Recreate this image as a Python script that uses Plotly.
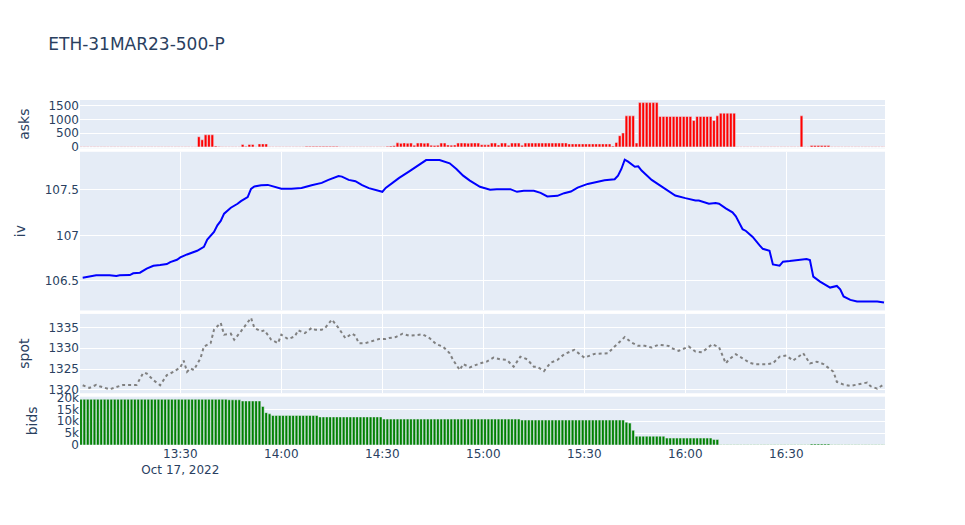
import pandas as pd
import plotly.graph_objects as go
from plotly.subplots import make_subplots

DAY = "2022-10-17 "
TITLE = "ETH-31MAR23-500-P"

# one bar per minute, 13:00 .. 16:59 (bar centred on the half minute)
bar_start = "2022-10-17 13:00:30"
n_bars = 240

asks = [
    10, 10, 10, 10, 10, 10, 10, 10, 10, 10,
    10, 10, 10, 10, 10, 10, 10, 10, 10, 10,
    10, 10, 10, 10, 10, 10, 10, 10, 10, 10,
    10, 10, 10, 10, 10, 370, 260, 440, 440, 440,
    30, 15, 10, 10, 10, 10, 10, 10, 90, 20,
    90, 90, 10, 110, 110, 110, 10, 10, 10, 10,
    10, 10, 10, 10, 10, 10, 10, 20, 20, 20,
    20, 20, 20, 20, 20, 20, 20, 10, 10, 10,
    10, 10, 10, 10, 10, 10, 10, 10, 10, 10,
    10, 20, 30, 40, 150, 130, 145, 135, 140, 60,
    140, 145, 135, 140, 60, 55, 60, 140, 140, 70,
    65, 70, 140, 145, 140, 135, 140, 145, 140, 80,
    75, 80, 140, 140, 70, 140, 140, 60, 140, 140,
    140, 60, 140, 140, 140, 140, 140, 140, 140, 140,
    140, 140, 140, 144, 144, 110, 110, 110, 110, 110,
    110, 110, 110, 110, 110, 110, 110, 110, 30, 160,
    408, 505, 1130, 1130, 1130, 140, 1610, 1610, 1610, 1610,
    1610, 1610, 1105, 1105, 1105, 1105, 1105, 1105, 1105, 1105,
    1105, 1105, 960, 1105, 1105, 1105, 1105, 1105, 960, 1130,
    1227, 1227, 1227, 1227, 1227, 8, 8, 8, 8, 8,
    8, 8, 8, 8, 8, 8, 8, 8, 8, 8,
    8, 8, 8, 8, 1130, 8, 8, 50, 50, 50,
    50, 50, 50, 8, 8, 8, 8, 8, 8, 8,
    8, 8, 8, 8, 8, 8, 8, 8, 8, 8,
]

bids = [
    19200, 19200, 19200, 19200, 19200, 19200, 19200, 19200, 19200, 19200,
    19200, 19200, 19200, 19200, 19200, 19200, 19200, 19200, 19200, 19200,
    19200, 19200, 19200, 19200, 19200, 19200, 19200, 19200, 19200, 19200,
    19200, 19200, 19200, 19200, 19200, 19200, 19200, 19200, 19200, 19200,
    19200, 19200, 19200, 19200, 19000, 19000, 19000, 19000, 18500, 18500,
    18500, 18500, 18500, 18500, 16200, 13600, 13100, 12400, 12400, 12400,
    12400, 12400, 12400, 12400, 12400, 12400, 12400, 12400, 12400, 12400,
    12400, 11800, 11800, 11800, 11800, 11800, 11800, 11800, 11800, 11800,
    11800, 11800, 11800, 11800, 11800, 11800, 11800, 11800, 11800, 11800,
    10900, 10900, 10900, 10900, 10900, 10900, 10900, 10900, 10900, 10900,
    10900, 10900, 10900, 10900, 10900, 10900, 10900, 10900, 10900, 10900,
    10900, 10900, 10900, 10900, 10900, 10900, 10900, 10900, 10900, 10900,
    10900, 10900, 10900, 10900, 10900, 10900, 10900, 10900, 10900, 10900,
    10900, 10500, 10500, 10500, 10500, 10500, 10500, 10500, 10500, 10500,
    10500, 10500, 10500, 10500, 10500, 10500, 10500, 10500, 10500, 10500,
    10500, 10500, 10500, 10500, 10500, 10500, 10500, 10500, 10500, 10500,
    10500, 10500, 9600, 9200, 6200, 3700, 3700, 3700, 3700, 3700,
    3700, 3700, 3700, 3700, 2900, 2900, 2900, 2900, 2900, 2900,
    2900, 2900, 2900, 2900, 2900, 2900, 2900, 2900, 2300, 2300,
    80, 80, 80, 80, 80, 80, 80, 80, 80, 80,
    80, 80, 80, 80, 80, 80, 80, 80, 80, 80,
    80, 80, 80, 80, 80, 80, 80, 430, 430, 430,
    430, 430, 430, 80, 80, 80, 80, 80, 80, 80,
    80, 80, 80, 80, 80, 80, 80, 80, 80, 80,
]

iv_times = [
    "13:01", "13:03", "13:05", "13:09", "13:11", "13:12", "13:15", "13:16", "13:18", "13:20",
    "13:22", "13:24", "13:26", "13:27", "13:29", "13:30", "13:32", "13:35", "13:37", "13:38",
    "13:40", "13:41", "13:42", "13:43", "13:45", "13:47", "13:48", "13:50", "13:51", "13:52",
    "13:54", "13:56", "13:57", "14:00", "14:03", "14:06", "14:09", "14:12", "14:14", "14:16",
    "14:17", "14:18", "14:20", "14:22", "14:24", "14:26", "14:30", "14:31", "14:33", "14:35",
    "14:38", "14:40", "14:41", "14:43", "14:45", "14:47", "14:50", "14:52", "14:54", "14:56",
    "14:59",
    "15:02", "15:04", "15:08", "15:10", "15:12", "15:15", "15:17", "15:19", "15:22", "15:24",
    "15:26", "15:28", "15:31", "15:33", "15:36", "15:39", "15:40", "15:41", "15:42", "15:43",
    "15:45", "15:46", "15:47", "15:50", "15:53", "15:55", "15:57", "16:00", "16:03", "16:04",
    "16:07", "16:09", "16:10", "16:12", "16:14", "16:15", "16:17", "16:18", "16:20", "16:22",
    "16:23", "16:25", "16:26", "16:28", "16:29", "16:31", "16:34", "16:36", "16:37", "16:38",
    "16:40", "16:43", "16:45", "16:46", "16:47", "16:49", "16:51", "16:57", "16:59",
]

iv = [
    106.535, 106.546, 106.561, 106.561, 106.553, 106.561, 106.564, 106.583, 106.590, 106.634,
    106.666, 106.674, 106.684, 106.706, 106.732, 106.757, 106.790, 106.830, 106.874, 106.954,
    107.037, 107.110, 107.158, 107.238, 107.303, 107.347, 107.376, 107.420, 107.511, 107.536,
    107.551, 107.554, 107.543, 107.511, 107.511, 107.521, 107.551, 107.576, 107.609, 107.638,
    107.652, 107.645, 107.609, 107.594, 107.551, 107.518, 107.478, 107.521, 107.580, 107.631,
    107.703, 107.754, 107.783, 107.827, 107.827, 107.827, 107.791, 107.729, 107.656, 107.601,
    107.533,
    107.500, 107.507, 107.507, 107.478, 107.489, 107.489, 107.467, 107.427, 107.434, 107.463,
    107.481, 107.525, 107.565, 107.580, 107.605, 107.616, 107.656, 107.729, 107.831, 107.809,
    107.754, 107.758, 107.711, 107.609, 107.536, 107.485, 107.438, 107.409, 107.383, 107.383,
    107.347, 107.354, 107.347, 107.296, 107.252, 107.208, 107.067, 107.048, 106.983, 106.892,
    106.852, 106.830, 106.681, 106.666, 106.710, 106.717, 106.728, 106.739, 106.728, 106.546,
    106.492, 106.426, 106.444, 106.408, 106.328, 106.291, 106.273, 106.273, 106.262,
]

spot_times = [
    "13:01", "13:03", "13:05", "13:06", "13:09", "13:11", "13:13", "13:17", "13:19", "13:20",
    "13:22", "13:24", "13:26", "13:28", "13:30", "13:31", "13:32", "13:33", "13:34", "13:36",
    "13:37", "13:39", "13:40", "13:42", "13:43", "13:45", "13:46", "13:48", "13:50", "13:51",
    "13:52", "13:54", "13:55", "13:57", "13:59", "14:00", "14:02", "14:04", "14:05", "14:07",
    "14:09", "14:10", "14:12", "14:13", "14:15", "14:17", "14:19", "14:21", "14:22", "14:23",
    "14:25", "14:27", "14:29", "14:31", "14:32", "14:34", "14:36", "14:38", "14:40", "14:42",
    "14:44", "14:46", "14:48", "14:50", "14:51", "14:53", "14:54", "14:56", "14:59",
    "15:01", "15:03", "15:05", "15:07", "15:09", "15:11", "15:13", "15:15", "15:16", "15:18",
    "15:20", "15:22", "15:24", "15:27", "15:28", "15:30", "15:33", "15:35", "15:37", "15:39",
    "15:42", "15:44", "15:46", "15:48", "15:50", "15:52", "15:55", "15:56", "15:58", "16:01",
    "16:03", "16:05", "16:08", "16:10", "16:12", "16:13", "16:15", "16:17", "16:19", "16:21",
    "16:24", "16:26", "16:28", "16:30", "16:32", "16:35", "16:37", "16:39", "16:41", "16:44",
    "16:45", "16:47", "16:49", "16:51", "16:54", "16:55", "16:57", "16:59",
]

spot = [
    1321.13, 1320.48, 1321.21, 1320.89, 1320.16, 1320.73, 1321.21, 1321.21, 1324.11, 1323.95,
    1322.34, 1321.13, 1323.55, 1324.35, 1325.40, 1327.02, 1324.35, 1325.16, 1324.76, 1327.58,
    1330.40, 1331.21, 1334.44, 1336.05, 1333.23, 1333.47, 1332.02, 1334.03, 1336.05, 1337.26,
    1334.84, 1334.03, 1334.27, 1332.02, 1331.21, 1333.23, 1332.18, 1332.82, 1334.27, 1333.63,
    1334.84, 1334.44, 1334.44, 1334.84, 1336.85, 1334.84, 1332.42, 1333.47, 1332.98, 1331.21,
    1331.21, 1331.77, 1332.18, 1332.18, 1332.42, 1332.66, 1333.47, 1332.98, 1333.06, 1333.31,
    1332.42, 1330.97, 1330.40, 1328.79, 1327.18, 1324.76, 1326.21, 1325.40, 1326.37,
    1326.77, 1327.74, 1327.34, 1327.18, 1325.56, 1327.98, 1327.34, 1325.56, 1325.56, 1324.52,
    1326.53, 1327.18, 1328.55, 1329.60, 1328.95, 1327.74, 1328.63, 1328.79, 1328.79, 1330.40,
    1332.66, 1331.37, 1330.56, 1330.56, 1330.16, 1330.81, 1330.56, 1330.00, 1329.35, 1330.40,
    1329.19, 1329.03, 1330.97, 1330.24, 1326.37, 1327.34, 1328.55, 1327.58, 1326.53, 1326.13,
    1326.13, 1326.37, 1327.98, 1328.23, 1327.02, 1328.79, 1326.37, 1326.77, 1326.21, 1324.35,
    1321.93, 1321.29, 1320.97, 1321.29, 1321.77, 1320.89, 1320.32, 1321.37,
]

bar_times = pd.date_range(bar_start, periods=n_bars, freq="min")
iv_x = pd.to_datetime([DAY + t for t in iv_times])
spot_x = pd.to_datetime([DAY + t for t in spot_times])

fig = make_subplots(rows=4, cols=1, shared_xaxes=True, vertical_spacing=0.01,
                    row_heights=[0.14, 0.46, 0.23, 0.14])

fig.add_trace(go.Bar(x=bar_times, y=asks, marker_color="red", name="asks"), row=1, col=1)
fig.add_trace(go.Scatter(x=iv_x, y=iv, mode="lines", line=dict(color="blue", width=2),
                         name="iv"), row=2, col=1)
fig.add_trace(go.Scatter(x=spot_x, y=spot, mode="lines",
                         line=dict(color="grey", width=2, dash="dot"), name="spot"), row=3, col=1)
fig.add_trace(go.Bar(x=bar_times, y=bids, marker_color="green", name="bids"), row=4, col=1)

fig.update_layout(
    title=dict(text=TITLE),
    font=dict(family="DejaVu Sans"),
    showlegend=False,
    width=965,
    height=525,
)
fig.update_yaxes(title_text="asks", range=[-50, 1705], row=1, col=1)
fig.update_yaxes(title_text="iv", row=2, col=1)
fig.update_yaxes(title_text="spot", row=3, col=1)
fig.update_yaxes(title_text="bids", range=[0, 20300], row=4, col=1)
fig.update_xaxes(range=["2022-10-17 13:00:12", "2022-10-17 16:59:18"], row=4, col=1)

fig.write_html("out.html", config={"displayModeBar": False},
               post_script="document.body.style.margin='0';")
